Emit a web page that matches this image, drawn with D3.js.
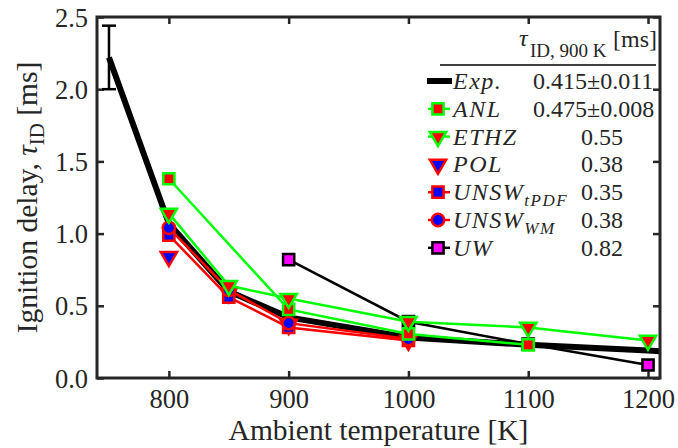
<!DOCTYPE html>
<html><head><meta charset="utf-8">
<script src="https://cdn.jsdelivr.net/npm/d3@7"></script>
<style>
body{margin:0;background:#fff}
svg{display:block}
text{font-family:"Liberation Serif","Times New Roman",serif;fill:#262626}
</style>
</head><body>
<svg id="chart" width="678" height="448"></svg>
<script>
// Axis ticks
const xTicks = [800, 900, 1000, 1100, 1200];
const yTicks = [0, 0.5, 1.0, 1.5, 2.0, 2.5];

// Experimental ignition delay [ms] vs ambient temperature [K]
const expT   = [750, 800, 850, 900, 1000, 1100, 1200, 1250];
const expTau = [2.22, 1.07, 0.60, 0.42, 0.28, 0.23, 0.19, 0.165];
const expErrT = [750];
const expErr  = [0.22];

// Model predictions
const anlT  = [800, 900, 1000, 1100];
const anlTau = [1.38, 0.475, 0.305, 0.23];
const ethzT  = [800, 850, 900, 1000, 1100, 1200];
const ethzTau = [1.14, 0.64, 0.55, 0.39, 0.35, 0.26];
const polT  = [800, 850, 900, 1000];
const polTau = [0.84, 0.59, 0.37, 0.26];
const tpdfT  = [800, 850, 900, 1000];
const tpdfTau = [0.99, 0.56, 0.35, 0.26];
const wmT  = [800, 850, 900, 1000];
const wmTau = [1.04, 0.61, 0.38, 0.27];
const uwT  = [900, 1000, 1100, 1200];
const uwTau = [0.82, 0.39, 0.235, 0.09];

// Legend: ignition delay at 900 K
const legendValues = ["0.415\u00B10.011", "0.475\u00B10.008", "0.55", "0.38", "0.35", "0.38", "0.82"];

const svg = d3.select("#chart");
const L = 97, R = 660, T = 17, B = 378;
const x = d3.scaleLinear().domain([740, 1210]).range([L, R]);
const y = d3.scaleLinear().domain([0, 2.5]).range([B, T]);
const axisColor = "#262626";

svg.append("defs").append("clipPath").attr("id", "plotClip")
  .append("rect").attr("x", L).attr("y", T).attr("width", R - L).attr("height", B - T);

// Axes with inward ticks on all four sides
const tickLen = 7;
const fmtY = d3.format(".1f");
const gx = svg.append("g").attr("transform", `translate(0,${B})`)
  .call(d3.axisBottom(x).tickValues(xTicks).tickSizeInner(-tickLen).tickSizeOuter(0).tickPadding(11).tickFormat(d3.format("d")));
const gy = svg.append("g").attr("transform", `translate(${L},0)`)
  .call(d3.axisLeft(y).tickValues(yTicks).tickSizeInner(-tickLen).tickSizeOuter(0).tickPadding(9).tickFormat(fmtY));
const gxt = svg.append("g").attr("transform", `translate(0,${T})`)
  .call(d3.axisTop(x).tickValues(xTicks).tickSizeInner(-tickLen).tickSizeOuter(0).tickFormat(""));
const gyr = svg.append("g").attr("transform", `translate(${R},0)`)
  .call(d3.axisRight(y).tickValues(yTicks).tickSizeInner(-tickLen).tickSizeOuter(0).tickFormat(""));
[gx, gy, gxt, gyr].forEach(g => {
  g.select(".domain").remove();
  g.selectAll(".tick line").attr("stroke", axisColor).attr("stroke-width", 2.5);
  g.selectAll(".tick text").attr("fill", axisColor).style("font-size", "26.5px")
    .style("font-family", '"Liberation Serif","Times New Roman",serif');
});
gy.selectAll(".tick text").attr("dy", "0.34em");

const plot = svg.append("g").attr("clip-path", "url(#plotClip)");

// Experimental curve with error bar
const line = d3.line().x(d => x(d[0])).y(d => y(d[1]));
plot.append("path").datum(expT.map((t, i) => [t, expTau[i]]))
  .attr("d", line).attr("fill", "none").attr("stroke", "#000").attr("stroke-width", 6)
  .attr("stroke-linejoin", "round");
expErrT.forEach((t, i) => {
  const v = expTau[expT.indexOf(t)], e = expErr[i];
  const g = plot.append("g").attr("stroke", "#000").attr("stroke-width", 2.5);
  g.append("line").attr("x1", x(t)).attr("x2", x(t)).attr("y1", y(v - e)).attr("y2", y(v + e));
  [v - e, v + e].forEach(yy => g.append("line").attr("x1", x(t) - 7).attr("x2", x(t) + 7).attr("y1", y(yy)).attr("y2", y(yy)));
});

// Model series styles
const sq = d3.symbol().type(d3.symbolSquare).size(125);
const tri = d3.symbol().type(d3.symbolTriangle).size(115);
const circ = d3.symbol().type(d3.symbolCircle).size(120);
const models = {
  ANL:  {T: anlT,  tau: anlTau,  line: "#00ff00", sym: sq,  down: false, face: "#ff0000", edge: "#00ff00"},
  ETHZ: {T: ethzT, tau: ethzTau, line: "#00ff00", sym: tri, down: true,  face: "#ff0000", edge: "#00ff00"},
  POL:  {T: polT,  tau: polTau,  line: null,      sym: tri, down: true,  face: "#0000ff", edge: "#ff0000"},
  TPDF: {T: tpdfT, tau: tpdfTau, line: "#ff0000", sym: sq,  down: false, face: "#0000ff", edge: "#ff0000"},
  WM:   {T: wmT,   tau: wmTau,   line: "#ff0000", sym: circ,down: false, face: "#0000ff", edge: "#ff0000"},
  UW:   {T: uwT,   tau: uwTau,   line: "#000000", sym: sq,  down: false, face: "#ff00ff", edge: "#000000"}
};

function drawMarker(g, s, cx, cy) {
  g.append("path").attr("d", s.sym())
    .attr("transform", `translate(${cx},${cy})` + (s.down ? " rotate(180)" : ""))
    .attr("fill", s.face).attr("stroke", s.edge).attr("stroke-width", 2.5).attr("stroke-linejoin", "miter");
}

["UW", "POL", "TPDF", "WM", "ANL", "ETHZ"].forEach(k => {
  const s = models[k];
  const pts = s.T.map((t, i) => [t, s.tau[i]]);
  const g = plot.append("g");
  if (s.line) g.append("path").datum(pts).attr("d", line).attr("fill", "none")
    .attr("stroke", s.line).attr("stroke-width", 2.5);
  pts.forEach(p => drawMarker(g, s, x(p[0]), y(p[1])));
});

// Frame
svg.append("rect").attr("x", L).attr("y", T).attr("width", R - L).attr("height", B - T)
  .attr("fill", "none").attr("stroke", axisColor).attr("stroke-width", 3);

// Axis titles
svg.append("text").attr("x", (L + R) / 2).attr("y", 440).attr("text-anchor", "middle")
  .style("font-size", "29.5px").text("Ambient temperature [K]");
const yl = svg.append("text").attr("transform", `translate(37,${(T + B) / 2}) rotate(-90)`)
  .attr("text-anchor", "middle").style("font-size", "29.5px");
yl.append("tspan").text("Ignition delay, ");
yl.append("tspan").style("font-style", "italic").text("\u03C4");
yl.append("tspan").attr("dy", 7).style("font-size", "21px").text("ID");
yl.append("tspan").attr("dy", -7).text(" [ms]");

// Legend
const lg = svg.append("g");
const hdr = lg.append("text").attr("x", 519).attr("y", 46).style("font-size", "24px");
hdr.append("tspan").style("font-style", "italic").text("\u03C4");
hdr.append("tspan").attr("x", 530).attr("y", 57).style("font-size", "19px").text("ID, 900 K");
lg.append("text").attr("x", 613).attr("y", 47).style("font-size", "24px").text("[ms]");
lg.append("line").attr("x1", 440).attr("x2", 656).attr("y1", 65).attr("y2", 65)
  .attr("stroke", "#000").attr("stroke-width", 1.5);

const legendLabels = [
  [["Exp.", 0]], [["ANL", 0]], [["ETHZ", 0]], [["POL", 0]],
  [["UNSW", 0], ["tPDF", 1]], [["UNSW", 0], ["WM", 1]], [["UW", 0]]
];
const legendKeys = ["EXP", "ANL", "ETHZ", "POL", "TPDF", "WM", "UW"];
const rowY0 = 81, rowDy = 27.8;
legendKeys.forEach((k, i) => {
  const cy = rowY0 + i * rowDy;
  if (k === "EXP") {
    lg.append("line").attr("x1", 427).attr("x2", 452).attr("y1", cy).attr("y2", cy)
      .attr("stroke", "#000").attr("stroke-width", 6);
  } else {
    const s = models[k];
    if (s.line) lg.append("line").attr("x1", 428).attr("x2", 450).attr("y1", cy).attr("y2", cy)
      .attr("stroke", s.line).attr("stroke-width", 2.5);
    drawMarker(lg, s, 438, cy);
  }
  const t = lg.append("text").attr("x", 453).attr("y", cy + 8).style("font-size", "24px")
    .style("font-style", "italic").style("letter-spacing", "1.5px");
  legendLabels[i].forEach(([str, sub]) => {
    if (sub) t.append("tspan").attr("dy", 6).style("font-size", "17px").text(str);
    else t.append("tspan").text(str);
  });
  const v = legendValues[i];
  lg.append("text").attr("x", v.length > 5 ? 533 : 581).attr("y", cy + 8)
    .style("font-size", "24px").text(v);
});
</script>
</body></html>
